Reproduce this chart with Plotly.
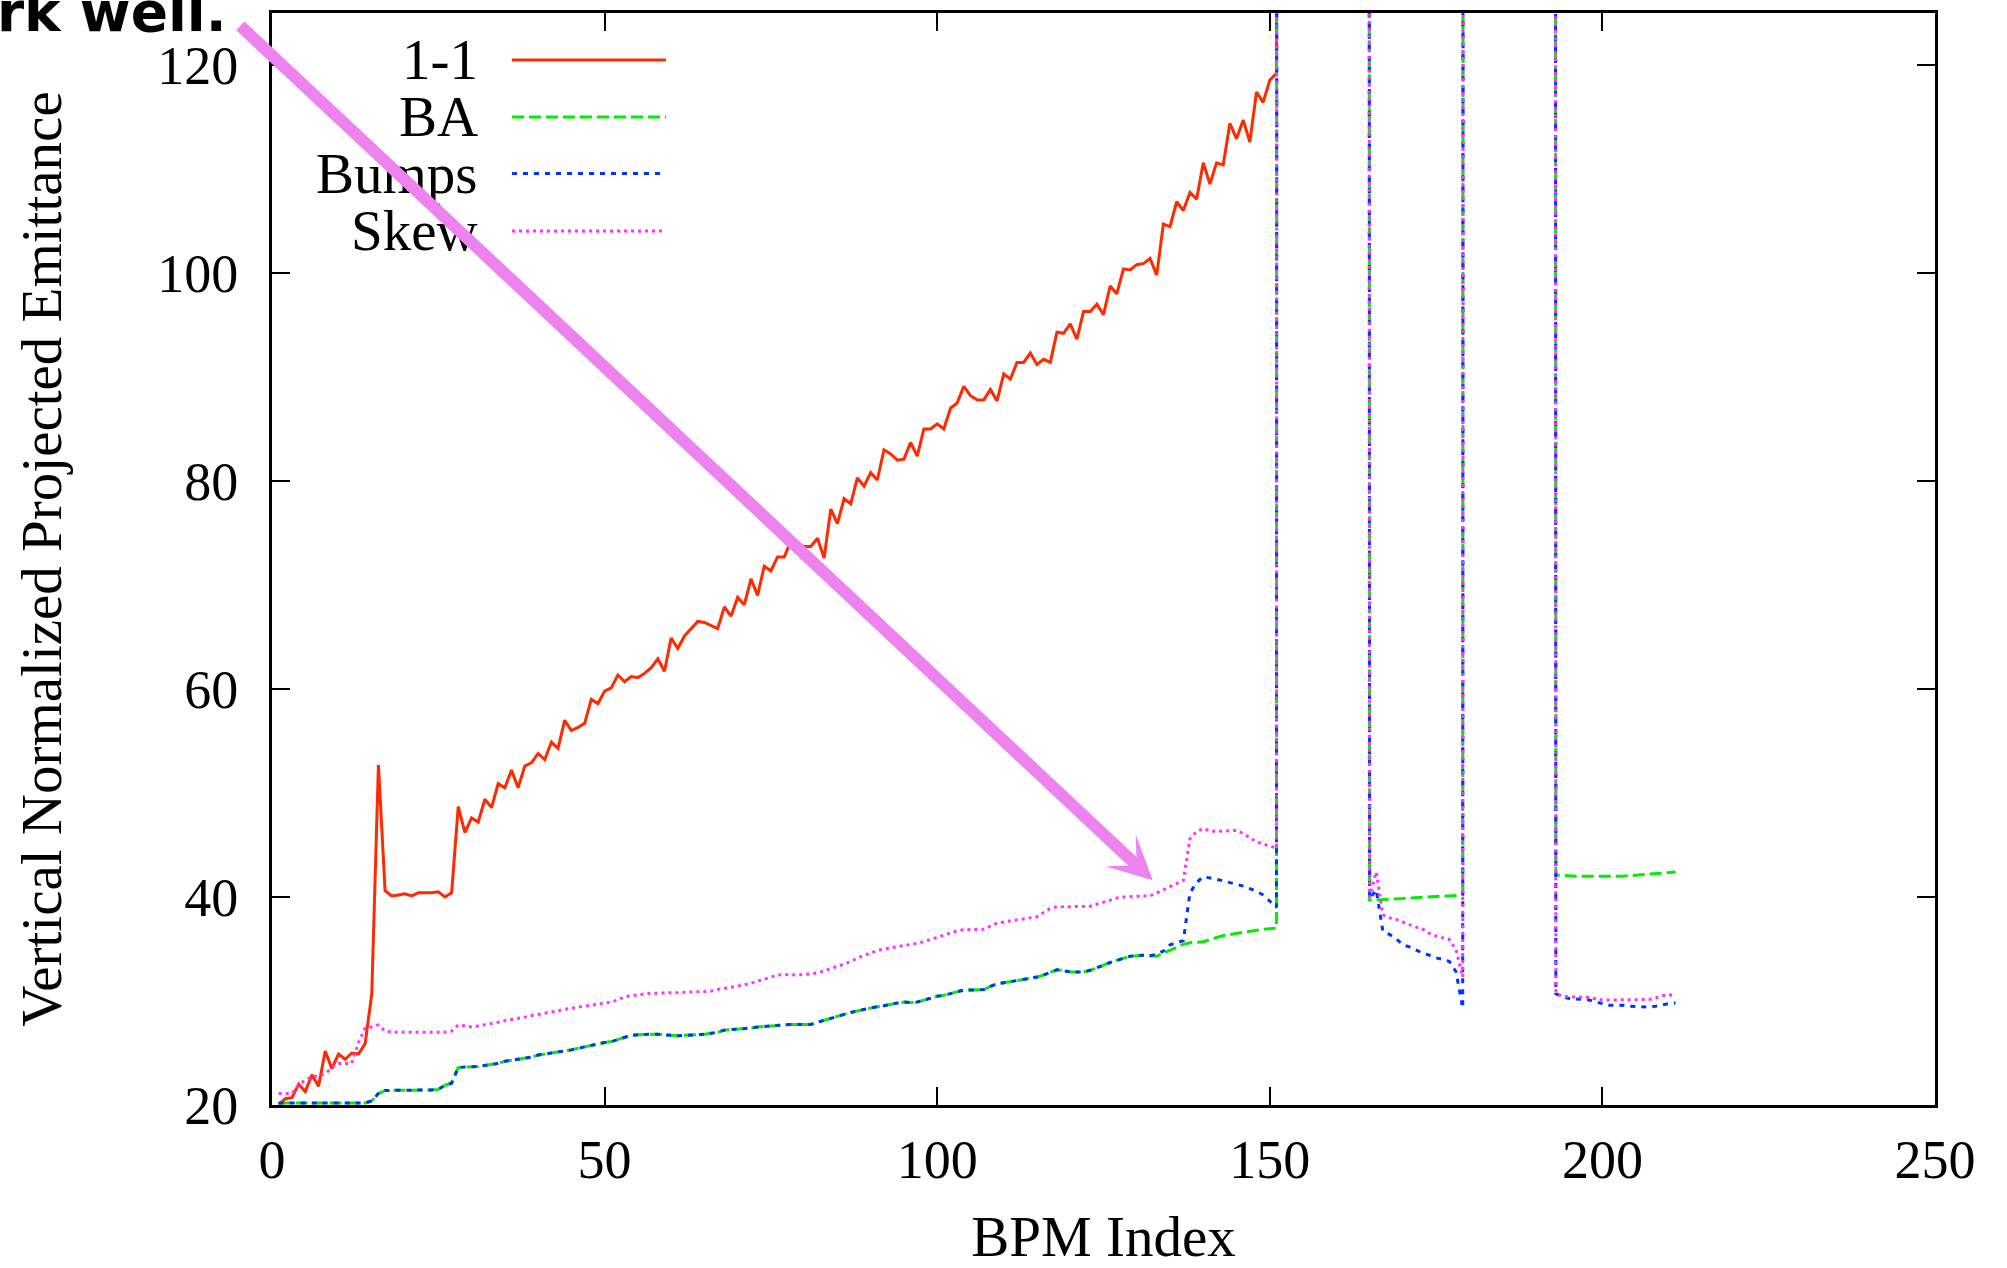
import plotly.graph_objects as go

# ---------------- data ----------------
OFF = 2000.0  # readings far above the plotted range (clipped in the reference)

bpm_index = list(range(1, 212))

one_to_one_vis = [
    20.06, 20.6, 20.7, 22.0, 21.3, 22.9, 21.8, 25.2, 23.5, 24.9,
    24.4, 25.0, 24.9, 25.9, 30.7, 52.7, 40.6, 40.1, 40.2, 40.3,
    40.1, 40.4, 40.4, 40.4, 40.5, 40.0, 40.4, 48.7, 46.2, 47.6,
    47.2, 49.4, 48.6, 50.9, 50.5, 52.2, 50.5, 52.6, 52.9, 53.8,
    53.2, 54.9, 54.3, 57.0, 56.0, 56.3, 56.7, 59.0, 58.6, 59.8,
    60.1, 61.35, 60.7, 61.2, 61.1, 61.5, 62.05, 62.9, 61.7, 64.9,
    63.9, 65.1, 65.8, 66.5, 66.4, 66.1, 65.8, 67.9, 67.0, 68.8,
    68.1, 70.6, 69.0, 71.8, 71.35, 72.7, 72.7, 74.2, 73.9, 73.7,
    73.7, 74.5, 72.6, 77.3, 75.9, 78.3, 77.8, 80.3, 79.5, 80.8,
    80.1, 83.0, 82.6, 82.0, 82.1, 83.7, 82.4, 85.0, 85.0, 85.5,
    85.0, 87.0, 87.5, 89.1, 88.2, 87.8, 87.8, 88.8, 87.7, 90.3,
    89.8, 91.4, 91.4, 92.3, 91.2, 91.7, 91.4, 94.3, 94.2, 95.1,
    93.65, 96.3, 96.3, 97.0, 96.0, 98.75, 98.0, 100.4, 100.3, 100.8,
    100.9, 101.4, 99.8, 104.7, 104.45, 106.85, 106.0, 107.75, 107.1, 110.6,
    108.55, 110.6, 110.4, 114.4, 112.9, 114.7, 112.6, 117.4, 116.4, 118.55,
    119.2,
]
one_to_one = one_to_one_vis + [OFF] * (211 - len(one_to_one_vis))

ba_part1 = [
    20.2, 20.2, 20.2, 20.2, 20.2, 20.2, 20.2, 20.2, 20.2, 20.2,
    20.2, 20.2, 20.2, 20.2, 20.4, 21.1, 21.4, 21.4, 21.4, 21.4,
    21.4, 21.4, 21.4, 21.45, 21.5, 21.9, 22.1, 23.6, 23.65, 23.65,
    23.7, 23.8, 23.9, 24.0, 24.2, 24.3, 24.4, 24.5, 24.6, 24.8,
    24.9, 25.0, 25.05, 25.2, 25.3, 25.45, 25.6, 25.7, 25.9, 26.0,
    26.1, 26.3, 26.5, 26.7, 26.75, 26.8, 26.8, 26.8, 26.75, 26.7,
    26.65, 26.7, 26.7, 26.75, 26.8, 26.9, 27.0, 27.2, 27.25, 27.3,
    27.3, 27.4, 27.5, 27.55, 27.6, 27.7, 27.75, 27.75, 27.75, 27.75,
    27.75, 27.95, 28.15, 28.35, 28.55, 28.75, 28.9, 29.05, 29.2, 29.35,
    29.45, 29.55, 29.7, 29.8, 29.9, 29.85, 29.9, 30.1, 30.3, 30.45,
    30.55, 30.7, 30.9, 31.05, 31.05, 31.05, 31.1, 31.4, 31.65, 31.75,
    31.85, 31.95, 32.05, 32.15, 32.3, 32.5, 32.75, 33.0, 32.9, 32.8,
    32.8, 32.8, 32.95, 33.2, 33.5, 33.7, 33.9, 34.1, 34.3, 34.35,
    34.4, 34.35, 34.3, 34.6, 34.9, 35.2, 35.45, 35.6, 35.65, 35.7,
    35.9, 36.1, 36.3, 36.4, 36.5, 36.6, 36.75, 36.85, 36.9, 36.95,
    37.0,
]
ba_part2 = [39.7, 39.7, 39.75, 39.8, 39.8, 39.85, 39.9, 39.95, 40.0, 40.0,
            40.05, 40.1, 40.1, 40.15, 40.2]
ba_part3 = [42.1, 42.1, 42.05, 42.0, 42.0, 41.95, 41.95, 41.95, 41.95, 42.0,
            42.0, 42.05, 42.1, 42.15, 42.2, 42.25, 42.3, 42.35, 42.4]

bumps_part1 = ba_part1[:132] + [
    34.5, 34.8, 35.4, 35.6, 35.8, 40.4, 41.4, 41.95, 41.85, 41.7,
    41.55, 41.4, 41.2, 41.05, 40.8, 40.55, 40.2, 39.55, 39.0,
]
bumps_part2 = [39.8, 40.7, 36.7, 36.4, 36.0, 35.4, 35.2, 34.9, 34.6, 34.4,
               34.15, 34.0, 33.8, 32.8, 29.3]
bumps_part3 = [30.7, 30.4, 30.25, 30.2, 30.2, 30.1, 29.9, 29.75, 29.6, 29.6,
               29.6, 29.5, 29.45, 29.4, 29.4, 29.5, 29.65, 29.75, 29.8]

skew_part1 = [
    21.1, 21.1, 21.1, 21.9, 22.4, 22.7, 22.8, 23.0, 23.6, 24.0,
    24.0, 24.0, 26.0, 27.4, 27.5, 27.7, 27.1, 27.0, 27.0, 27.0,
    27.0, 27.0, 27.0, 27.0, 27.0, 27.0, 27.1, 27.7, 27.6, 27.5,
    27.6, 27.7, 27.8, 27.95, 28.1, 28.2, 28.3, 28.45, 28.6, 28.7,
    28.8, 28.9, 29.05, 29.2, 29.3, 29.4, 29.5, 29.6, 29.7, 29.8,
    29.9, 30.1, 30.4, 30.5, 30.6, 30.7, 30.75, 30.75, 30.8, 30.8,
    30.8, 30.85, 30.85, 30.9, 30.9, 30.95, 31.1, 31.2, 31.35, 31.45,
    31.55, 31.7, 31.9, 32.1, 32.3, 32.5, 32.55, 32.5, 32.5, 32.55,
    32.6, 32.7, 32.9, 33.1, 33.3, 33.55, 33.8, 34.1, 34.4, 34.6,
    34.85, 35.0, 35.1, 35.25, 35.35, 35.45, 35.55, 35.7, 35.9, 36.1,
    36.3, 36.5, 36.75, 36.85, 36.85, 36.9, 36.9, 37.2, 37.5, 37.6,
    37.7, 37.8, 37.9, 38.0, 38.1, 38.5, 38.9, 39.05, 39.05, 39.05,
    39.1, 39.1, 39.1, 39.3, 39.5, 39.7, 39.9, 40.0, 40.05, 40.05,
    40.1, 40.1, 40.4, 40.7, 41.0, 41.3, 41.6, 45.6, 46.3, 46.6,
    46.35, 46.3, 46.35, 46.4, 46.4, 46.1, 45.7, 45.3, 45.1, 44.9,
    44.7,
]
skew_part2 = [40.0, 42.4, 38.3, 38.0, 37.85, 37.6, 37.3, 37.1, 36.9, 36.5,
              36.25, 36.1, 35.9, 34.9, 32.3]
skew_part3 = [30.7, 30.5, 30.4, 30.4, 30.4, 30.35, 30.2, 30.1, 30.1, 30.1,
              30.1, 30.1, 30.1, 30.15, 30.15, 30.3, 30.5, 30.6, 30.5]


def assemble(p1, p2, p3):
    return p1 + [OFF] * 13 + p2 + [OFF] * 13 + p3


ba = assemble(ba_part1, ba_part2, ba_part3)
bumps = assemble(bumps_part1, bumps_part2, bumps_part3)
skew = assemble(skew_part1, skew_part2, skew_part3)

series_names = ["1-1", "BA", "Bumps", "Skew"]
series_values = [one_to_one, ba, bumps, skew]
series_colors = ["#ff2a00", "#00ee00", "#0033ff", "#ff33ff"]
series_dash = ["solid", "12px,5px", "5px,6px", "3px,4px"]

x_ticks = [0, 50, 100, 150, 200, 250]
y_ticks = [20, 40, 60, 80, 100, 120]

# ---------------- figure ----------------
SERIF = "Liberation Serif, Times New Roman, serif"
FS_TICK = 54
FS_TEXT = 57

fig = go.Figure()
for name, vals, col, dash in zip(series_names, series_values, series_colors, series_dash):
    fig.add_trace(go.Scatter(
        x=bpm_index, y=vals, name=name, mode="lines",
        line=dict(color=col, width=3, dash=dash),
        showlegend=False,
    ))

# manual gnuplot-style legend (text left of sample line)
legend_rows = [0.9570, 0.9048, 0.8530, 0.8004]
for name, col, dash, yy in zip(series_names, series_colors, series_dash, legend_rows):
    fig.add_annotation(text=name, xref="paper", yref="paper", x=0.1250, y=yy,
                       xanchor="right", yanchor="middle", showarrow=False,
                       font=dict(family=SERIF, size=FS_TEXT, color="black"))
    fig.add_shape(type="line", xref="paper", yref="paper",
                  x0=0.1443, x1=0.2369, y0=yy, y1=yy,
                  line=dict(color=col, width=3, dash=dash))

# pink arrow pointing at the Skew / Bumps bump
fig.add_annotation(x=132.4, y=41.6, xref="x", yref="y",
                   ax=-914, ay=-856, axref="pixel", ayref="pixel",
                   text="", showarrow=True, arrowhead=3, arrowsize=0.61,
                   arrowwidth=12, arrowcolor="violet", standoff=0)

# cut-off slide text at the top
fig.add_annotation(text="rk well.", xref="paper", yref="paper",
                   x=-0.0259, y=0.9700, xanchor="right", yanchor="bottom",
                   showarrow=False,
                   font=dict(family="DejaVu Sans, sans-serif", size=55,
                             color="black", weight="bold"))

axis_common = dict(
    showline=True, linewidth=3, linecolor="black", mirror="allticks",
    ticks="inside", ticklen=18, tickwidth=2, tickcolor="black",
    showgrid=False, zeroline=False, automargin=False,
    tickfont=dict(family=SERIF, size=FS_TICK, color="black"),
)

fig.update_layout(
    width=2007, height=1268,
    margin=dict(l=272, r=72, t=13, b=163),
    paper_bgcolor="white", plot_bgcolor="white",
    xaxis=dict(range=[0, 250], tickvals=x_ticks, ticklabelstandoff=5,
               title=dict(text="BPM Index", standoff=39,
                          font=dict(family=SERIF, size=FS_TEXT, color="black")),
               **axis_common),
    yaxis=dict(range=[20, 125], tickvals=y_ticks, ticklabelstandoff=20,
               title=dict(text="Vertical Normalized Projected Emittance", standoff=78,
                          font=dict(family=SERIF, size=FS_TEXT, color="black")),
               **axis_common),
)

fig.write_html("out.html", config={"displayModeBar": False},
               post_script="document.body.style.margin='0';")
